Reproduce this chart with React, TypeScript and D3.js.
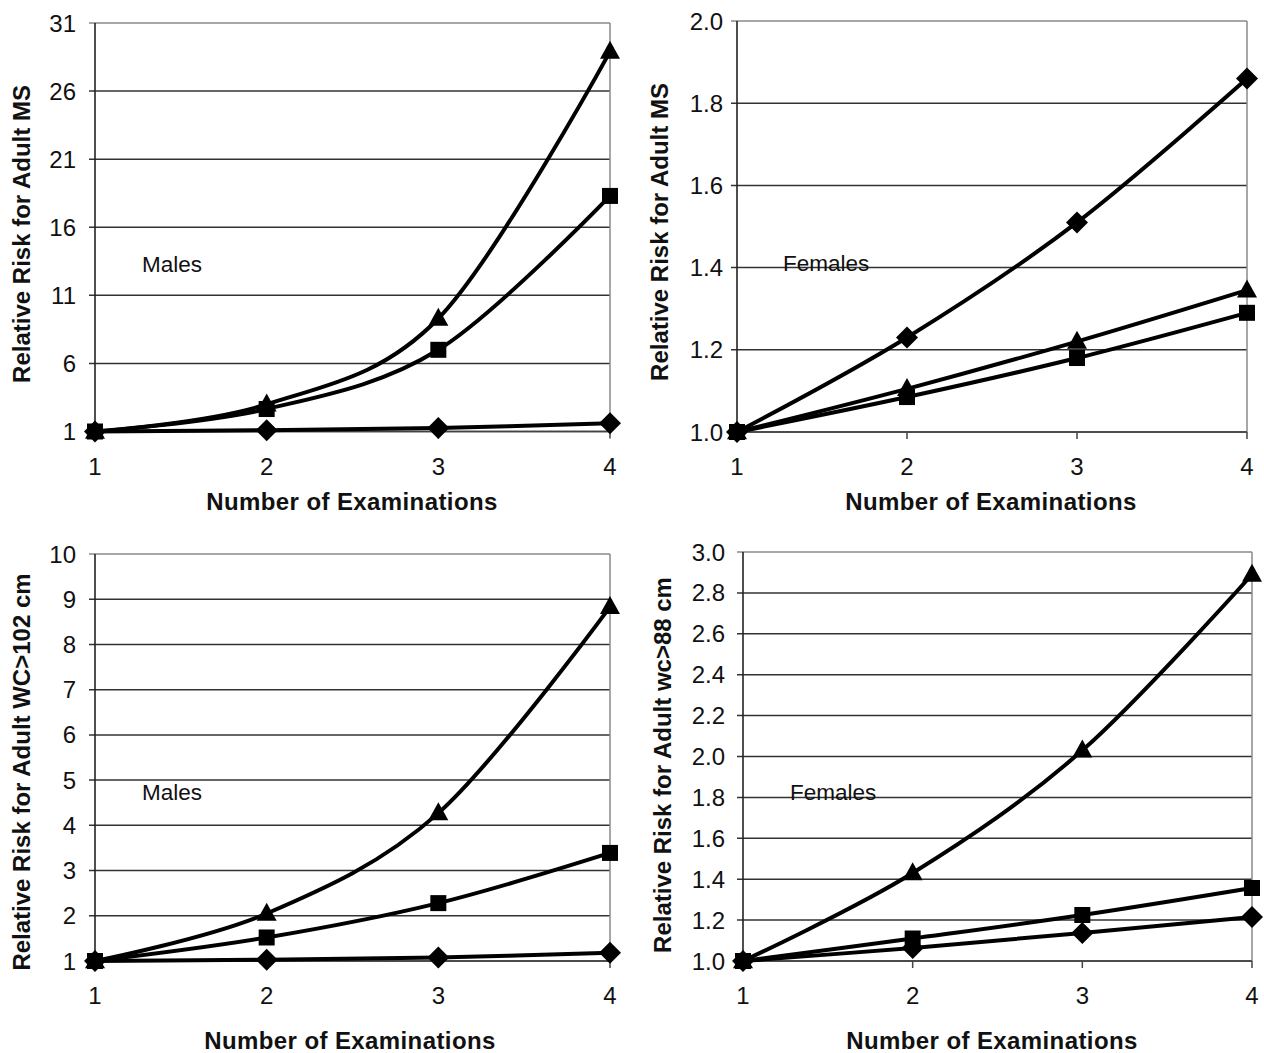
import React from "react";
import * as d3 from "d3";

// ---------- data ----------
const examinations = [1, 2, 3, 4];

// Panel A: Males, Relative risk for adult MS
const maleMsTriangle = [1, 3.0, 9.3, 28.9];
const maleMsSquare = [1, 2.65, 7.0, 18.3];
const maleMsDiamond = [1, 1.1, 1.25, 1.6];
const maleMsTicks = [1, 6, 11, 16, 21, 26, 31];

// Panel B: Females, Relative risk for adult MS
const femaleMsDiamond = [1.0, 1.23, 1.51, 1.86];
const femaleMsTriangle = [1.0, 1.105, 1.22, 1.345];
const femaleMsSquare = [1.0, 1.085, 1.18, 1.29];
const femaleMsTicks = [1.0, 1.2, 1.4, 1.6, 1.8, 2.0];

// Panel C: Males, Relative risk for adult WC>102 cm
const maleWcTriangle = [1, 2.05, 4.27, 8.83];
const maleWcSquare = [1, 1.52, 2.28, 3.39];
const maleWcDiamond = [1, 1.03, 1.08, 1.18];
const maleWcTicks = [1, 2, 3, 4, 5, 6, 7, 8, 9, 10];

// Panel D: Females, Relative risk for adult wc>88 cm
const femaleWcTriangle = [1.0, 1.43, 2.03, 2.89];
const femaleWcSquare = [1.0, 1.11, 1.225, 1.357];
const femaleWcDiamond = [1.0, 1.064, 1.137, 1.215];
const femaleWcTicks = [1.0, 1.2, 1.4, 1.6, 1.8, 2.0, 2.2, 2.4, 2.6, 2.8, 3.0];

const xTitle = "Number of Examinations";

type Series = { marker: "triangle" | "square" | "diamond"; values: number[] };
type Panel = {
  yTitle: string;
  label: string;
  ticks: number[];
  decimals: number;
  series: Series[];
  // layout
  x0: number; x1: number; yTop: number; yBot: number; labelGap: number;
  yTitleX: number; yTitleY: number;
  xTitleX: number; xTitleY: number;
  labelX: number; labelY: number;
};

const panels: Panel[] = [
  {
    yTitle: "Relative Risk for Adult MS", label: "Males", ticks: maleMsTicks, decimals: 0,
    series: [
      { marker: "diamond", values: maleMsDiamond },
      { marker: "square", values: maleMsSquare },
      { marker: "triangle", values: maleMsTriangle },
    ],
    x0: 95, x1: 610, yTop: 23, yBot: 431.5, labelGap: 19,
    yTitleX: 22, yTitleY: 234, xTitleX: 352, xTitleY: 502, labelX: 142, labelY: 264,
  },
  {
    yTitle: "Relative Risk for Adult MS", label: "Females", ticks: femaleMsTicks, decimals: 1,
    series: [
      { marker: "square", values: femaleMsSquare },
      { marker: "triangle", values: femaleMsTriangle },
      { marker: "diamond", values: femaleMsDiamond },
    ],
    x0: 737, x1: 1247, yTop: 21, yBot: 432, labelGap: 14,
    yTitleX: 660, yTitleY: 232, xTitleX: 991, xTitleY: 502, labelX: 783, labelY: 263,
  },
  {
    yTitle: "Relative Risk for Adult WC>102 cm", label: "Males", ticks: maleWcTicks, decimals: 0,
    series: [
      { marker: "diamond", values: maleWcDiamond },
      { marker: "square", values: maleWcSquare },
      { marker: "triangle", values: maleWcTriangle },
    ],
    x0: 95, x1: 610, yTop: 554, yBot: 961, labelGap: 19,
    yTitleX: 22, yTitleY: 772, xTitleX: 350, xTitleY: 1041, labelX: 142, labelY: 792,
  },
  {
    yTitle: "Relative Risk for Adult wc>88 cm", label: "Females", ticks: femaleWcTicks, decimals: 1,
    series: [
      { marker: "diamond", values: femaleWcDiamond },
      { marker: "square", values: femaleWcSquare },
      { marker: "triangle", values: femaleWcTriangle },
    ],
    x0: 743, x1: 1252, yTop: 552, yBot: 961, labelGap: 18,
    yTitleX: 663, yTitleY: 765, xTitleX: 992, xTitleY: 1041, labelX: 790, labelY: 792,
  },
];

const FONT = "'Liberation Sans', Arial, sans-serif";

function Marker({ kind, x, y }: { kind: string; x: number; y: number }) {
  if (kind === "triangle") {
    const w = 20;
    const h = 18;
    return (
      <path
        d={`M${x},${y - h * 0.6}L${x + w / 2},${y + h * 0.4}L${x - w / 2},${y + h * 0.4}Z`}
        fill="#000"
      />
    );
  }
  if (kind === "square") {
    const s = 16;
    return <rect x={x - s / 2} y={y - s / 2} width={s} height={s} fill="#000" />;
  }
  const r = 11;
  return <path d={`M${x},${y - r}L${x + r},${y}L${x},${y + r}L${x - r},${y}Z`} fill="#000" />;
}

function PanelView({ p }: { p: Panel }) {
  const xs = d3.scaleLinear().domain([1, 4]).range([p.x0, p.x1]);
  const ys = d3
    .scaleLinear()
    .domain([p.ticks[0], p.ticks[p.ticks.length - 1]])
    .range([p.yBot, p.yTop]);
  const line = d3
    .line<number>()
    .x((_, i) => xs(examinations[i]))
    .y((v) => ys(v))
    .curve(d3.curveCatmullRom.alpha(0));
  const fmt = d3.format(`.${p.decimals}f`);
  return (
    <g>
      {/* gridlines */}
      {p.ticks.map((t, i) => (
        <line
          key={`g${i}`}
          x1={p.x0 - 6}
          x2={p.x1}
          y1={ys(t)}
          y2={ys(t)}
          stroke={i === p.ticks.length - 1 ? "#8a8a8a" : "#333"}
          strokeWidth={1.5}
        />
      ))}
      {/* right border */}
      <line x1={p.x1} x2={p.x1} y1={p.yTop} y2={p.yBot} stroke="#8a8a8a" strokeWidth={1.5} />
      {/* y axis */}
      <line x1={p.x0} x2={p.x0} y1={p.yTop} y2={p.yBot} stroke="#222" strokeWidth={1.6} />
      {/* x axis */}
      <line x1={p.x0} x2={p.x1} y1={p.yBot} y2={p.yBot} stroke="#444" strokeWidth={1.5} />
      {examinations.map((e) => (
        <line
          key={`xt${e}`}
          x1={xs(e)}
          x2={xs(e)}
          y1={p.yBot}
          y2={p.yBot + 7}
          stroke="#444"
          strokeWidth={1.5}
        />
      ))}
      {/* tick labels */}
      {p.ticks.map((t, i) => (
        <text
          key={`yl${i}`}
          x={p.x0 - p.labelGap}
          y={ys(t) + 8.5}
          textAnchor="end"
          fontSize={24}
          fontFamily={FONT}
          fill="#111"
        >
          {fmt(t)}
        </text>
      ))}
      {examinations.map((e) => (
        <text
          key={`xl${e}`}
          x={xs(e)}
          y={p.yBot + 43}
          textAnchor="middle"
          fontSize={24}
          fontFamily={FONT}
          fill="#111"
        >
          {e}
        </text>
      ))}
      {/* series */}
      {p.series.map((s, si) => (
        <path key={`s${si}`} d={line(s.values) || ""} fill="none" stroke="#000" strokeWidth={4} />
      ))}
      {p.series.map((s, si) =>
        s.values.map((v, i) => (
          <Marker key={`m${si}-${i}`} kind={s.marker} x={xs(examinations[i])} y={ys(v)} />
        ))
      )}
      {/* in-chart label */}
      <text x={p.labelX} y={p.labelY + 8} fontSize={22.5} fontFamily={FONT} fill="#111">
        {p.label}
      </text>
      {/* titles */}
      <text
        x={p.xTitleX}
        y={p.xTitleY + 8}
        textAnchor="middle"
        fontSize={24}
        fontWeight="bold"
        fontFamily={FONT}
        fill="#111"
        letterSpacing={0.4}
      >
        {xTitle}
      </text>
      <text
        transform={`translate(${p.yTitleX + 8},${p.yTitleY}) rotate(-90)`}
        textAnchor="middle"
        fontSize={24}
        fontWeight="bold"
        fontFamily={FONT}
        fill="#111"
      >
        {p.yTitle}
      </text>
    </g>
  );
}

export default function App() {
  return (
    <svg
      width={1264}
      height={1053}
      style={{ position: "absolute", left: 0, top: 0, background: "#fff" }}
    >
      <rect x={0} y={0} width={1264} height={1053} fill="#fff" />
      {panels.map((p, i) => (
        <PanelView key={i} p={p} />
      ))}
    </svg>
  );
}
